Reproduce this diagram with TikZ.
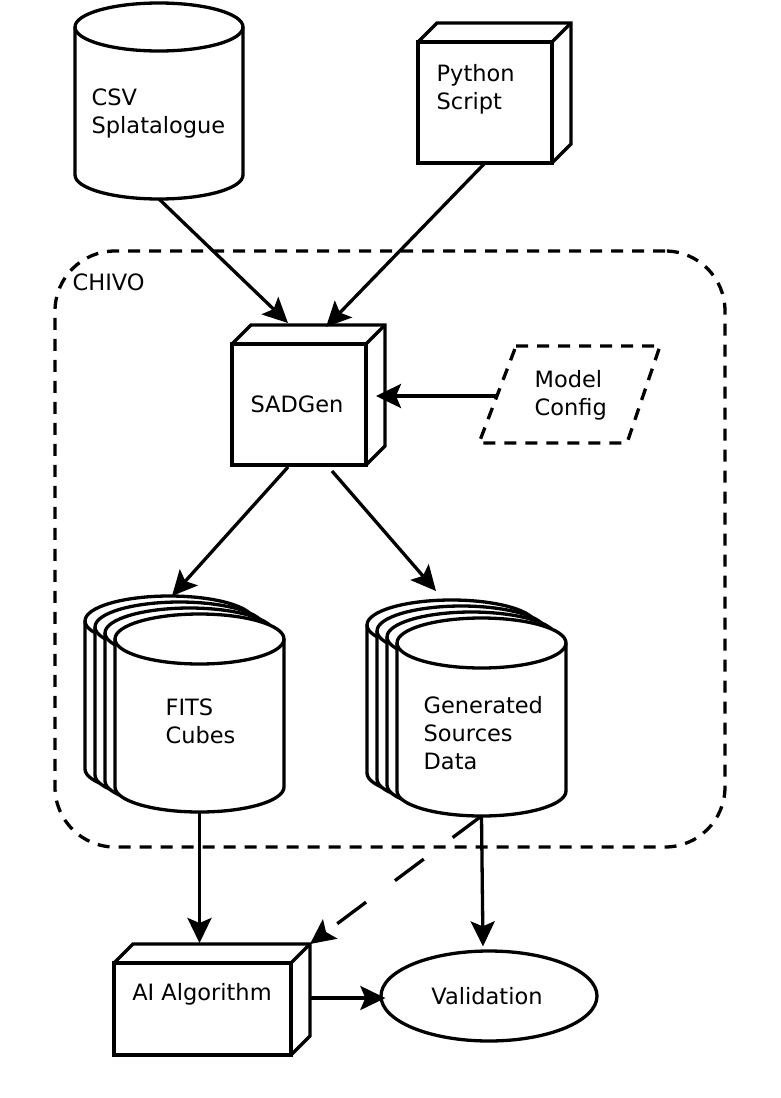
\documentclass[tikz,border=0pt]{standalone}
\usepackage{fontspec}
\setmainfont{DejaVu Sans}
\usetikzlibrary{arrows.meta,shapes.geometric}
% cylinder: cx, top y, bottom y, rx, ry
\newcommand{\mycyl}[5]{%
  \filldraw[fill=white] ({#1-#4},{#2-#5}) -- ({#1-#4},{#3+#5})
    arc[start angle=180,end angle=360,x radius=#4pt,y radius=#5pt]
    -- ({#1+#4},{#2-#5})
    arc[start angle=0,end angle=180,x radius=#4pt,y radius=#5pt] -- cycle;
  \draw ({#1-#4},{#2-#5}) arc[start angle=180,end angle=360,x radius=#4pt,y radius=#5pt];}
\newcommand{\mycube}[1]{%
  \draw (#1.north west) -- ++(19,19) -- ([shift={(19,19)}]#1.north east)
    -- ([shift={(19,19)}]#1.south east) -- (#1.south east);
  \draw (#1.north east) -- ++(19,19);}
\tikzset{
  lbl/.style={font=\fontsize{22.5}{28}\selectfont, inner sep=0pt, align=left},
  hold/.style={inner sep=0pt, outer sep=0pt},
  cubefront/.style={draw, fill=white, inner sep=0pt, outer sep=0pt, font=\fontsize{22.5}{28}\selectfont},
  arr/.style={-{Stealth[length=25pt,width=24pt,inset=5pt]}},
  border/.style={dash pattern=on 12pt off 9pt},
  longdash/.style={dash pattern=on 36pt off 36pt}
}
\begin{document}
\begin{tikzpicture}[x=1pt,y=1pt,line width=3.3pt]
\useasboundingbox (0,0) rectangle (780,-1098);

% CHIVO group
\node[hold, draw, border, rounded corners=60pt, minimum width=670pt, minimum height=596pt] (chivo) at (390,-549) {};
\node[lbl, anchor=west] (chivot) at (71,-282) {CHIVO};

% CSV cylinder
\node[hold, minimum width=168pt, minimum height=196pt] (csv) at (159,-101) {};
\mycyl{159}{-3}{-199}{84}{24}
\node[lbl, anchor=west] (csvt) at (90,-113.5) {CSV\\Splatalogue};

% Python Script cube
\node[cubefront, minimum width=134pt, minimum height=121pt] (py) at (485,-102.5) {};
\mycube{py}
\node[lbl, anchor=west] (pyt) at (435,-89) {Python\\Script};

% SADGen cube
\node[cubefront, minimum width=134pt, minimum height=121pt] (sadgen) at (299,-404.5) {};
\mycube{sadgen}
\node[lbl] (sadt) at (297,-404) {SADGen};

% Model Config
\node[hold, minimum width=181pt, minimum height=97pt] (model) at (569.5,-394.5) {};
\draw[border] (516,-346) -- (660,-346) -- (627,-443) -- (479,-443) -- cycle;
\coordinate (mcl) at (498,-396);
\node[lbl, anchor=west] (modt) at (533,-395) {Model\\Config};

% FITS stack
\mycyl{169.5}{-596}{-794}{84.5}{25}
\mycyl{179.5}{-602}{-800}{84.5}{25}
\mycyl{189.5}{-608}{-806}{84.5}{25}
\node[hold, minimum width=169pt, minimum height=198pt] (fits) at (199.5,-713) {};
\mycyl{199.5}{-614}{-812}{84.5}{25}
\node[lbl, anchor=west] (fitst) at (164,-721) {FITS\\Cubes};

% Generated stack
\mycyl{451.5}{-600}{-798}{84.5}{25}
\mycyl{461.5}{-606}{-804}{84.5}{25}
\mycyl{471.5}{-612}{-810}{84.5}{25}
\node[hold, minimum width=169pt, minimum height=198pt] (gen) at (481.5,-717) {};
\mycyl{481.5}{-618}{-816}{84.5}{25}
\node[lbl, anchor=west] (gent) at (422,-733) {Generated\\Sources\\Data};

% AI Algorithm cube
\node[cubefront, minimum width=177pt, minimum height=92pt] (ai) at (202.5,-1009) {};
\mycube{ai}
\node[lbl] (ait) at (202,-994) {AI Algorithm};

% Validation
\node[ellipse, draw, inner sep=0pt, minimum width=216pt, minimum height=90pt] (val) at (489,-996) {};
\node[lbl] (valt) at (487,-996) {Validation};

% connectors
\draw[arr] (csv.south) -- ([shift={(-11,21)}]sadgen.north);
\draw[arr] (py.south) -- ([shift={(27,17)}]sadgen.north);
\draw[arr] (mcl) -- ([shift={(10,8.5)}]sadgen.east);
\draw[arr] ([shift={(-11,-2)}]sadgen.south) -- ([shift={(-27.5,18)}]fits.north);
\draw[arr] ([shift={(33,-6)}]sadgen.south) -- ([shift={(-45.5,27)}]gen.north);
\draw[arr] (fits.south) -- ([yshift=20]ai.north -| fits.south);
\draw[arr] (gen.south) -- ([shift={(-6,3)}]val.north);
\draw[arr, longdash] (gen.south) -- ([shift={(19,19)}]ai.north east);
\coordinate (aiout) at ([shift={(19,11)}]ai.east);
\draw[arr] (aiout) -- ([xshift=6]val.west |- aiout);
\end{tikzpicture}
\end{document}
